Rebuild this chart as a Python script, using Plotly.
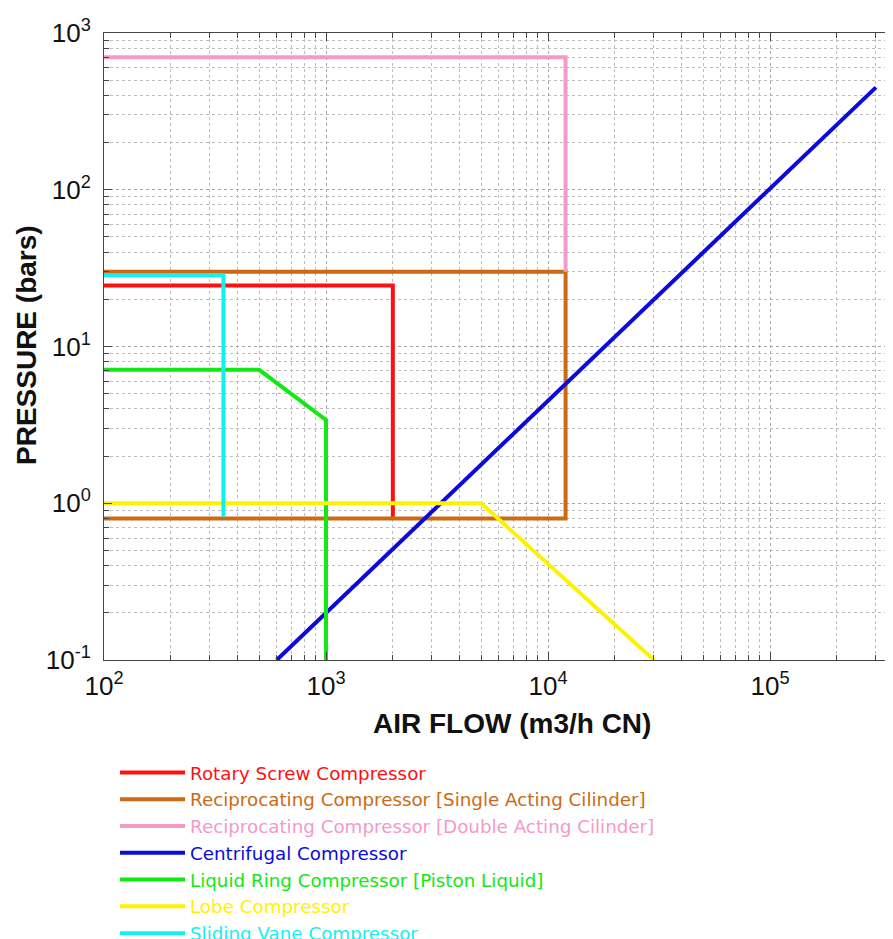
import plotly.graph_objects as go

# ---- data ----
rotary_x = [100, 2000, 2000]
rotary_y = [24.5, 24.5, 0.8]
single_x = [100, 12000, 12000, 100]
single_y = [30, 30, 0.8, 0.8]
double_x = [100, 12000, 12000]
double_y = [700, 700, 30]
centrifugal_x = [600, 300000]
centrifugal_y = [0.1, 450]
liquid_x = [100, 500, 1000, 1000]
liquid_y = [7.1, 7.1, 3.4, 0.1]
lobe_x = [100, 5000, 30000]
lobe_y = [1.0, 1.0, 0.1]
vane_x = [100, 345, 345]
vane_y = [28.5, 28.5, 0.82]

names = [
    "Rotary Screw Compressor",
    "Reciprocating Compressor [Single Acting Cilinder]",
    "Reciprocating Compressor [Double Acting Cilinder]",
    "Centrifugal Compressor",
    "Liquid Ring Compressor [Piston Liquid]",
    "Lobe Compressor",
    "Sliding Vane Compressor",
]
colors = ["#FF1010", "#CC6A14", "#F49AC8", "#0A0ADC", "#12E812", "#FFF200", "#12F0F0"]
series = [
    (rotary_x, rotary_y),
    (single_x, single_y),
    (double_x, double_y),
    (centrifugal_x, centrifugal_y),
    (liquid_x, liquid_y),
    (lobe_x, lobe_y),
    (vane_x, vane_y),
]

x_decades = [2, 3, 4, 5, 6]
y_decades = [-1, 0, 1, 2, 3]
x_tickvals = [10 ** d for d in x_decades]
x_ticktext = [f"10<sup>{d}</sup>" for d in x_decades]
y_tickvals = [10 ** d for d in y_decades]
y_ticktext = [f"10<sup>{d}</sup>" for d in y_decades]
x_minor = [m * 10 ** d for d in x_decades for m in range(2, 10)]
y_minor = [m * 10.0 ** d for d in y_decades for m in range(2, 10)]

x_title = "AIR FLOW (m3/h CN)"
y_title = "PRESSURE (bars)"

FONT = "Liberation Sans, Arial, Helvetica, sans-serif"
LEGEND_FONT = "DejaVu Sans, Liberation Sans, sans-serif"

fig = go.Figure()
for (xs, ys), name, col in zip(series, names, colors):
    fig.add_trace(go.Scatter(
        x=xs, y=ys, mode="lines",
        line=dict(color=col, width=4),
        name=f"<span style='color:{col}'>{name}</span>",
    ))

# the page body adds an 8px margin, so the figure is 8px smaller
W, H = 885, 931
ml, mr, mt, mb = 96, 0, 25, 279
plot_h = H - mt - mb
plot_w = W - ml - mr

axis_common = dict(
    type="log",
    tickmode="array",
    showline=True, linecolor="#444", linewidth=1, mirror="ticks",
    ticks="inside", ticklen=8, tickcolor="#444",
    showgrid=True, gridcolor="#a6a6a6", griddash="dot", gridwidth=1,
    zeroline=False,
    tickfont=dict(family=FONT, size=26, color="#111"),
)

fig.update_layout(
    width=W, height=H,
    margin=dict(l=ml, r=mr, t=mt, b=mb, autoexpand=False),
    paper_bgcolor="white", plot_bgcolor="white",
    font=dict(family=FONT, color="#111"),
    xaxis=dict(
        axis_common, range=[2, 2 + plot_w / 222.0],
        tickvals=x_tickvals, ticktext=x_ticktext,
        ticklabelstandoff=3,
        minor=dict(tickmode="array", tickvals=x_minor, ticks="inside", ticklen=5, tickcolor="#444",
                   showgrid=True, gridcolor="#bdbdbd", griddash="dot", gridwidth=1),
    ),
    yaxis=dict(
        axis_common, range=[-1, 3],
        tickvals=y_tickvals, ticktext=y_ticktext,
        ticklabelstandoff=7,
        minor=dict(tickmode="array", tickvals=y_minor, ticks="inside", ticklen=5, tickcolor="#444",
                   showgrid=True, gridcolor="#bdbdbd", griddash="dot", gridwidth=1),
    ),
    annotations=[
        dict(text=f"<b>{x_title}</b>", xref="paper", yref="paper",
             x=(504 - ml) / plot_w, y=(652 - 715) / plot_h, xanchor="center", yanchor="middle",
             showarrow=False, font=dict(family=FONT, size=28, color="#111")),
        dict(text=f"<b>{y_title}</b>", xref="paper", yref="paper", textangle=-90,
             x=(18 - ml) / plot_w, y=(652 - 337) / plot_h, xanchor="center", yanchor="middle",
             showarrow=False, font=dict(family=FONT, size=28, color="#111")),
    ],
    legend=dict(
        x=(107 - ml) / plot_w, xanchor="left",
        y=(652 - 746) / plot_h, yanchor="top",
        font=dict(family=LEGEND_FONT, size=18.3),
        bgcolor="rgba(255,255,255,0)",
        itemwidth=65,
        tracegroupgap=0,
    ),
    showlegend=True,
)

fig.write_html("out.html")
